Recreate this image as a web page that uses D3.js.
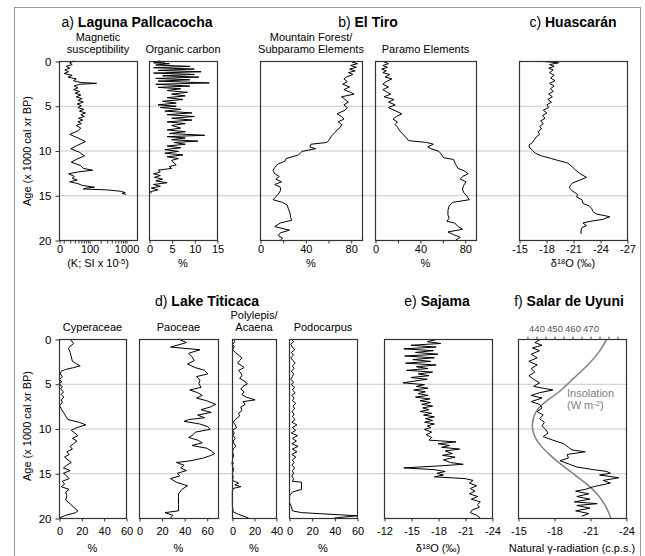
<!DOCTYPE html>
<html>
<head>
<meta charset="utf-8">
<script src="https://cdn.jsdelivr.net/npm/d3@7"></script>
<style>
  body { margin: 0; background: #fff; }
  svg text { font-family: "Liberation Sans", Arial, sans-serif; fill: #000; }
</style>
</head>
<body>
<svg id="chart" width="645" height="556"></svg>
<script>
// ---- data: [age (ka BP), value] ----
var ageTicks = [0, 5, 10, 15, 20];
var gridAges = [5, 10, 15];

var magSusc = [[0.0, 40], [0.2, 30], [0.4, 35], [0.6, 24], [0.8, 30], [1.0, 22], [1.2, 28], [1.4, 21], [1.6, 35], [1.8, 27],
  [2.0, 45], [2.2, 38], [2.4, 60], [2.5, 160], [2.6, 55], [2.8, 40], [3.0, 50], [3.2, 38], [3.4, 55], [3.6, 42],
  [3.8, 60], [4.0, 45], [4.2, 65], [4.4, 50], [4.6, 70], [4.8, 48], [5.0, 62], [5.2, 50], [5.4, 72], [5.6, 55],
  [5.8, 80], [6.0, 60], [6.2, 75], [6.4, 52], [6.6, 68], [6.8, 50], [7.0, 62], [7.2, 45], [7.5, 60], [7.8, 50],
  [8.2, 30], [8.6, 50], [9.0, 80], [9.4, 50], [9.8, 32], [10.2, 55], [10.6, 75], [11.0, 45], [11.3, 33], [11.7, 60],
  [12.0, 70], [12.2, 125], [12.4, 50], [12.6, 28], [12.9, 40], [13.1, 35], [13.3, 48], [13.5, 30], [13.7, 50], [13.9, 65],
  [14.1, 140], [14.2, 85], [14.3, 70], [14.4, 300], [14.55, 700], [14.7, 950], [14.8, 780], [14.9, 1000]];

var orgCarbon = [[0.0, 2], [0.1, 3.5], [0.2, 1], [0.3, 4.5], [0.45, 1.5], [0.6, 9], [0.75, 1], [0.9, 10], [1.05, 2], [1.2, 11.5],
  [1.35, 1], [1.5, 10], [1.65, 3], [1.8, 11], [1.95, 1.5], [2.1, 9], [2.25, 2], [2.45, 13.3], [2.6, 1.5], [2.8, 9],
  [2.95, 2], [3.1, 7], [3.3, 4], [3.5, 8.5], [3.7, 5], [3.9, 8], [4.1, 4], [4.3, 7.5], [4.5, 3], [4.7, 6],
  [4.9, 2], [5.05, 6], [5.2, 2.5], [5.4, 7], [5.6, 3.5], [5.8, 9.5], [6.0, 4], [6.2, 10], [6.4, 5], [6.6, 9.5],
  [6.8, 4], [7.0, 8], [7.2, 5], [7.5, 7], [7.7, 4], [7.9, 8], [8.1, 4.5], [8.3, 12.3], [8.45, 4], [8.6, 8],
  [8.8, 5], [8.95, 10.8], [9.1, 5.5], [9.3, 8], [9.5, 4], [9.7, 7], [9.9, 3.5], [10.1, 6.5], [10.3, 3.5], [10.5, 7.5],
  [10.7, 4], [10.9, 6.5], [11.1, 5], [11.4, 5.5], [11.6, 6], [11.8, 4.5], [12.0, 5], [12.2, 2], [12.4, 2.5], [12.6, 1],
  [12.8, 2.5], [13.0, 1.2], [13.2, 3], [13.4, 1.5], [13.6, 4], [13.8, 1], [14.0, 2.5], [14.2, 0.5], [14.4, 2], [14.6, 0.3], [14.8, 0.5]];

var mountainForest = [[0.1, 81], [0.3, 86], [0.5, 80], [0.7, 85], [0.9, 79], [1.1, 84], [1.3, 78], [1.5, 82], [1.8, 76], [2.0, 74],
  [2.3, 77], [2.6, 73], [2.9, 79], [3.2, 74], [3.5, 80], [3.7, 83], [4.0, 72], [4.3, 75], [4.6, 78], [4.9, 74],
  [5.2, 77], [5.5, 75], [5.9, 68], [6.2, 72], [6.5, 74], [6.8, 69], [7.1, 72], [7.4, 71], [7.7, 68], [8.0, 66],
  [8.4, 63], [8.8, 61], [9.1, 59], [9.3, 45], [9.6, 44], [9.8, 49], [10.1, 37], [10.5, 34], [10.9, 23], [11.2, 22],
  [11.5, 16], [11.9, 13], [12.2, 11.5], [12.6, 13], [12.9, 17], [13.2, 14], [13.5, 19], [13.8, 13], [14.1, 18], [14.5, 18],
  [14.9, 16], [15.3, 13], [15.5, 11.5], [15.8, 20], [16.1, 24], [16.5, 25], [17.0, 26.5], [17.5, 27], [17.8, 28], [18.1, 18],
  [18.5, 13], [18.9, 26], [19.2, 18], [19.5, 16], [19.8, 20], [20, 18]];

var paramo = [[0.1, 8], [0.3, 12], [0.5, 7], [0.7, 11], [0.9, 6], [1.1, 10], [1.3, 7], [1.5, 13], [1.8, 9], [2.0, 15],
  [2.3, 10], [2.6, 7], [2.9, 12], [3.2, 7], [3.5, 11], [3.7, 14], [4.0, 8], [4.3, 17], [4.6, 12], [4.9, 18],
  [5.2, 12], [5.5, 17], [5.9, 24], [6.2, 19], [6.5, 16], [6.8, 20], [7.1, 18], [7.4, 20], [7.8, 22], [8.2, 25],
  [8.6, 28], [8.9, 30], [9.1, 46], [9.3, 52], [9.6, 47], [9.8, 50], [10.1, 57], [10.4, 59], [10.8, 61], [11.0, 70],
  [11.3, 71], [11.6, 72], [12.0, 74], [12.3, 80], [12.6, 83], [12.9, 78], [13.2, 76], [13.5, 81], [13.9, 79], [14.3, 78],
  [14.7, 79], [15.1, 82], [15.5, 84], [15.8, 69], [16.2, 66], [16.7, 65], [17.2, 65], [17.6, 66], [17.9, 64], [18.1, 71],
  [18.5, 74], [18.8, 78], [19.1, 65], [19.4, 70], [19.7, 76], [20, 72]];

var huascaran = [[0.05, -17.6], [0.2, -19.4], [0.4, -18.4], [0.6, -18.9], [0.8, -18.3], [1.0, -18.8], [1.3, -18.4], [1.6, -18.9], [1.9, -18.5], [2.2, -19.0],
  [2.5, -18.4], [2.8, -18.9], [3.1, -18.5], [3.4, -18.8], [3.7, -18.3], [4.0, -18.7], [4.3, -18.2], [4.6, -18.6], [4.9, -18.1], [5.2, -18.3],
  [5.5, -17.7], [5.8, -18.1], [6.1, -17.6], [6.4, -17.9], [6.7, -17.4], [7.0, -17.7], [7.3, -17.3], [7.6, -17.5], [7.9, -17.1], [8.2, -17.3],
  [8.5, -16.9], [8.8, -16.7], [9.1, -16.5], [9.4, -16.1], [9.7, -16.2], [10.0, -16.5], [10.3, -16.8], [10.6, -17.5], [10.9, -18.6], [11.1, -19.3],
  [11.4, -20.4], [11.8, -20.9], [12.2, -21.3], [12.6, -21.8], [13.0, -22.5], [13.3, -21.8], [13.6, -21.0], [13.9, -20.7], [14.2, -20.6], [14.5, -20.9],
  [14.9, -21.5], [15.2, -21.4], [15.5, -22.0], [15.9, -22.1], [16.2, -22.8], [16.5, -23.1], [16.8, -23.2], [17.1, -23.6], [17.4, -25.1], [17.7, -24.3],
  [17.9, -23.0], [18.1, -22.1], [18.4, -22.5], [18.6, -22.0], [18.9, -21.9], [19.3, -21.9]];

var cyperaceae = [[0, 10], [0.5, 13], [1.0, 8.5], [1.5, 10], [2.0, 11], [2.5, 12], [2.8, 16], [3.0, 19], [3.2, 13], [3.4, 6],
  [3.6, 2], [3.9, 1], [4.2, 3], [4.5, 0.5], [4.8, 2.5], [5.0, 0], [5.3, 3], [5.6, 1.5], [5.9, 4], [6.2, 2],
  [6.5, 4.5], [6.8, 2], [7.1, 3], [7.4, 0.5], [7.8, 2], [8.2, 4], [8.6, 6], [9.0, 8], [9.3, 18], [9.6, 24],
  [9.9, 16], [10.2, 11], [10.5, 14], [10.8, 17], [11.1, 12], [11.4, 16], [11.7, 13], [12.0, 10], [12.3, 12], [12.6, 7],
  [12.9, 9], [13.2, 5], [13.5, 8], [13.8, 11], [14.1, 7], [14.4, 4], [14.7, 10], [15.0, 4], [15.3, 7], [15.6, 9],
  [15.9, 3], [16.2, 5], [16.5, 2], [16.8, 9], [17.1, 6], [17.5, 7], [18.0, 6], [18.4, 10], [18.8, 13], [19.2, 17],
  [19.4, 15], [19.7, 6], [20, 0]];

var paoceae = [[0, 35], [0.4, 42], [0.9, 28], [1.2, 54], [1.6, 44], [2.0, 47], [2.4, 49], [2.8, 43], [3.2, 50], [3.5, 58],
  [3.9, 61], [4.2, 51], [4.6, 54], [5.0, 53], [5.4, 55], [5.7, 45], [6.0, 52], [6.3, 56], [6.6, 51], [6.9, 60],
  [7.3, 68], [7.6, 63], [7.9, 55], [8.2, 64], [8.5, 52], [8.8, 58], [9.0, 44], [9.2, 40], [9.5, 54], [9.8, 61],
  [10.1, 63], [10.4, 50], [10.7, 48], [11.0, 44], [11.3, 52], [11.6, 56], [11.9, 47], [12.2, 60], [12.5, 64], [12.8, 67],
  [13.0, 64], [13.3, 57], [13.6, 46], [13.8, 33], [14.1, 40], [14.4, 37], [14.7, 42], [15.0, 34], [15.3, 36], [15.6, 28],
  [16.0, 33], [16.4, 43], [16.8, 38], [17.3, 35], [17.6, 35], [18.5, 35], [19.2, 35], [19.4, 23], [19.7, 30], [20, 28]];

var polylepis = [[0, 1], [0.3, 2.5], [0.6, 0.5], [0.9, 2], [1.2, 0.5], [1.5, 3], [1.8, 6], [2.1, 9], [2.4, 7], [2.7, 5],
  [3.0, 9], [3.2, 11], [3.5, 6], [3.8, 8], [4.1, 9], [4.4, 7], [4.7, 11], [5.0, 14], [5.3, 10], [5.6, 8],
  [5.9, 11], [6.2, 9], [6.5, 13], [6.8, 21], [7.0, 10], [7.3, 12], [7.6, 8], [8.0, 9], [8.3, 6], [8.6, 7],
  [9.0, 3], [9.3, 1], [9.6, 3], [9.9, 4], [10.2, 0.5], [10.5, 2], [10.8, 1], [11.1, 3], [11.4, 1], [11.7, 2],
  [12.0, 3.5], [12.3, 1], [12.6, 0.5], [13.0, 1.5], [13.4, 0.5], [13.8, 0.3], [14.2, 0.5], [14.6, 1.5], [15.0, 0.3], [15.4, 1],
  [15.8, 0.5], [16.1, 6], [16.3, 2.5], [16.5, 8], [16.7, 1], [17.0, 0.3], [17.5, 0.3], [18.5, 0.3], [19.3, 1], [19.6, 6], [20, 15]];
var polylepisMark = [[13.9, 0.6]];

var podocarpus = [[0, 2], [0.3, 4], [0.6, 1.5], [0.9, 3], [1.2, 5], [1.5, 2], [1.8, 4], [2.1, 1.5], [2.4, 3.5], [2.7, 5.5],
  [3.0, 3], [3.3, 4.5], [3.6, 2], [3.9, 4], [4.2, 3], [4.5, 1.5], [4.8, 4], [5.1, 2], [5.4, 5], [5.7, 3],
  [6.0, 5.5], [6.3, 2.5], [6.6, 4.5], [6.9, 3], [7.2, 6], [7.5, 3.5], [7.8, 5], [8.1, 2.5], [8.4, 4.5], [8.7, 3],
  [9.0, 5.5], [9.3, 2.5], [9.6, 7], [9.9, 3], [10.2, 6], [10.5, 2], [10.8, 7.5], [11.1, 3], [11.4, 6.5], [11.7, 2.5],
  [12.0, 8], [12.3, 3], [12.6, 7], [12.9, 2.5], [13.2, 6], [13.5, 3], [13.8, 4.5], [14.1, 2.5], [14.4, 5], [14.7, 3],
  [15.0, 4], [15.3, 2.5], [15.6, 4], [15.9, 3], [16.0, 11], [16.8, 11], [17.1, 3], [17.5, 0.5], [18.3, 0.5], [18.7, 2],
  [19.2, 3], [19.4, 11], [19.75, 60], [20, 40]];

var sajama = [[0.05, -17.9], [0.3, -16.8], [0.5, -18.3], [0.7, -15.0], [0.9, -17.8], [1.1, -14.2], [1.3, -17.5], [1.5, -15.5], [1.7, -18.0], [1.9, -14.3],
  [2.1, -17.6], [2.3, -15.2], [2.5, -17.2], [2.7, -14.4], [2.9, -17.8], [3.1, -15.6], [3.3, -16.9], [3.5, -14.5], [3.7, -17.4], [3.9, -15.8],
  [4.1, -17.0], [4.3, -15.0], [4.5, -16.8], [4.7, -15.4], [4.9, -14.1], [5.1, -16.5], [5.3, -15.6], [5.5, -16.9], [5.7, -15.3], [5.9, -16.6],
  [6.1, -15.8], [6.3, -16.9], [6.5, -15.5], [6.7, -17.1], [6.9, -16.0], [7.1, -17.2], [7.3, -16.2], [7.5, -17.4], [7.7, -16.3], [7.9, -17.0],
  [8.1, -16.0], [8.3, -17.3], [8.5, -16.4], [8.7, -17.6], [8.9, -16.6], [9.1, -17.4], [9.3, -16.5], [9.5, -17.6], [9.7, -16.8], [9.9, -17.2],
  [10.1, -16.5], [10.4, -17.3], [10.7, -16.7], [11.0, -17.3], [11.3, -17.0], [11.5, -20.0], [11.7, -18.0], [11.9, -19.3], [12.1, -18.4], [12.3, -20.4],
  [12.5, -18.8], [12.8, -19.6], [13.0, -18.5], [13.2, -19.9], [13.5, -18.6], [13.8, -19.4], [14.0, -20.8], [14.2, -17.8], [14.4, -14.2], [14.6, -17.6],
  [14.8, -18.8], [15.0, -17.9], [15.2, -18.6], [15.4, -17.6], [15.6, -21.0], [15.8, -21.9], [16.1, -21.5], [16.4, -22.3], [16.7, -21.6], [17.0, -22.1],
  [17.3, -21.5], [17.6, -22.4], [17.9, -21.7], [18.2, -22.7], [18.5, -22.4], [18.8, -22.6], [19.1, -21.8], [19.4, -21.6], [19.7, -22.3], [20.0, -22.7]];

var gammaRad = [[0.1, -16.8], [0.4, -16.4], [0.7, -17.0], [1.0, -16.2], [1.3, -16.8], [1.7, -16.1], [2.1, -16.6], [2.5, -15.9], [2.9, -16.6], [3.3, -16.1],
  [3.7, -16.4], [4.1, -15.9], [4.5, -16.3], [4.9, -16.8], [5.3, -16.3], [5.7, -17.9], [6.0, -16.8], [6.3, -16.1], [6.6, -17.0], [7.0, -16.1],
  [7.3, -16.8], [7.7, -17.0], [8.1, -16.6], [8.5, -17.1], [8.9, -16.8], [9.3, -17.2], [9.7, -17.0], [10.1, -17.3], [10.5, -17.5], [10.9, -17.1],
  [11.3, -17.9], [11.7, -18.8], [12.1, -19.2], [12.4, -19.5], [12.6, -20.6], [12.9, -19.1], [13.3, -19.2], [13.6, -18.5], [14.0, -19.3], [14.3, -19.9],
  [14.6, -21.3], [14.8, -22.4], [15.0, -22.7], [15.2, -21.8], [15.5, -23.4], [15.8, -22.1], [16.1, -22.7], [16.5, -21.3], [16.8, -20.6], [17.0, -19.8],
  [17.3, -20.9], [17.6, -19.9], [17.9, -21.0], [18.2, -19.7], [18.4, -21.6], [18.6, -19.9], [18.9, -21.0], [19.2, -19.8], [19.5, -20.9], [19.8, -20.3]];

var insolation = [[0, 479.3], [1.4, 475.6], [2.9, 469], [4.4, 460.7], [5.9, 453.3], [7.0, 445], [7.7, 441.3], [8.5, 438.9],
  [9.6, 437.6], [10.7, 438.5], [11.9, 442.2], [13.0, 447.8], [14.1, 454.3], [15.2, 461.7], [16.3, 469], [17.4, 474.6],
  [18.5, 478.3], [19.7, 481.1], [20, 481.5]];

var magTicks = [15.4, 20, 30, 40, 50, 60, 70, 80, 90, 100, 200, 300, 400, 500, 600, 700, 800, 900, 1000];
var insolTicks = [435, 440, 445, 450, 455, 460, 465, 470, 475, 480, 485];
var insolLabels = [440, 450, 460, 470];

// ---- layout ----
var svg = d3.select("#chart");
var FS = "11px";

svg.append("rect")
  .attr("x", 14.5).attr("y", 7.5)
  .attr("width", 626).attr("height", 570)
  .attr("fill", "none").attr("stroke", "#9a9a9a");

var rows = [
  {top: 61, bottom: 240, pad: 2, unitY: 267, gx: [59, 627], labelY: 151},
  {top: 339, bottom: 518, pad: 6, unitY: 552, gx: [59, 626], labelY: 426}
];

rows.forEach(function(r) {
  r.y = d3.scaleLinear().domain([0, 20]).range([r.top, r.bottom]);

  svg.append("g").selectAll("line")
    .data(gridAges)
    .join("line")
      .attr("x1", r.gx[0]).attr("x2", r.gx[1])
      .attr("y1", function(d) { return r.y(d) + 0.5 })
      .attr("y2", function(d) { return r.y(d) + 0.5 })
      .attr("stroke", "#c8c8c8").attr("stroke-width", 1);

  var ya = svg.append("g")
    .attr("transform", "translate(59.5,0.5)")
    .call(d3.axisLeft(r.y).tickValues(ageTicks).tickSize(4).tickPadding(4).tickFormat(String));
  ya.select(".domain").remove();
  ya.selectAll("line").attr("stroke", "#333");
  ya.selectAll("text").attr("font-size", "11.5px").attr("font-family", null).attr("fill", "#000");

  svg.append("text")
    .attr("transform", "translate(31," + r.labelY + ") rotate(-90)")
    .attr("text-anchor", "middle")
    .attr("font-size", FS)
    .text("Age (x 1000 cal xr BP)");
});

// text with superscripts: parts = [[text, isSup], ...]
function richText(x, y, parts, color) {
  var t = svg.append("text")
    .attr("x", x).attr("y", y)
    .attr("text-anchor", "middle")
    .attr("font-size", FS)
    .style("fill", color || "#000");
  var up = false;
  parts.forEach(function(p) {
    var s = t.append("tspan").text(p[0]);
    if (p[1] && !up) { s.attr("dy", -3.5).attr("font-size", "7.5px"); up = true }
    else if (!p[1] && up) { s.attr("dy", 3.5); up = false }
    else if (p[1]) { s.attr("font-size", "7.5px") }
  });
  return t;
}

var panels = [
  {row: 0, x0: 59, x1: 137, data: magSusc, log: true, domain: [15.4, 1980], ticks: magTicks,
    labels: [15.4, 100, 1000], fmt: function(d) { return d < 20 ? "0" : String(d) },
    sub: ["Magnetic", "susceptibility"], unit: [["(K; SI x 10"], ["-5", true], [")"]]},
  {row: 0, x0: 149, x1: 217, data: orgCarbon, domain: [0, 15], ticks: [0, 5, 10, 15], labels: [0, 5, 10, 15],
    sub: ["Organic carbon"], unit: [["%"]]},
  {row: 0, x0: 260, x1: 362, data: mountainForest, domain: [0, 90], ticks: [0, 20, 40, 60, 80], labels: [0, 40, 80],
    sub: ["Mountain Forest/", "Subparamo Elements"], unit: [["%"]]},
  {row: 0, x0: 375, x1: 476, data: paramo, domain: [0, 90], ticks: [0, 20, 40, 60, 80], labels: [0, 40, 80],
    sub: ["Paramo Elements"], unit: [["%"]]},
  {row: 0, x0: 519, x1: 627, data: huascaran, domain: [-15, -27], ticks: [-15, -18, -21, -24, -27], labels: [-15, -18, -21, -24, -27],
    sub: [], unit: [["δ"], ["18", true], ["O (‰)"]]},
  {row: 1, x0: 59, x1: 126, data: cyperaceae, domain: [0, 60], ticks: [0, 20, 40, 60], labels: [0, 20, 40, 60],
    sub: ["Cyperaceae"], unit: [["%"]]},
  {row: 1, x0: 139, x1: 218, data: paoceae, domain: [0, 70], ticks: [0, 20, 40, 60], labels: [0, 20, 40, 60],
    sub: ["Paoceae"], unit: [["%"]]},
  {row: 1, x0: 232, x1: 276, data: polylepis, domain: [0, 40], ticks: [0, 20, 40], labels: [0, 20, 40],
    sub: ["Polylepis/", "Acaena"], unit: [["%"]], mark: polylepisMark},
  {row: 1, x0: 289, x1: 357, data: podocarpus, domain: [0, 60], ticks: [0, 20, 40, 60], labels: [0, 20, 40, 60],
    sub: ["Podocarpus"], unit: [["%"]]},
  {row: 1, x0: 384, x1: 492, data: sajama, domain: [-12, -24], ticks: [-12, -15, -18, -21, -24], labels: [-12, -15, -18, -21, -24],
    sub: [], unit: [["δ"], ["18", true], ["O (‰)"]]},
  {row: 1, x0: 518, x1: 626, data: gammaRad, domain: [-15, -24], ticks: [-15, -18, -21, -24], labels: [-15, -18, -21, -24],
    sub: [], unit: [["Natural γ-radiation (c.p.s.)"]], insol: true}
];

panels.forEach(function(p) {
  var r = rows[p.row];
  var x = (p.log ? d3.scaleLog() : d3.scaleLinear()).domain(p.domain).range([p.x0, p.x1]);
  var cx = (p.x0 + p.x1) / 2;
  var g = svg.append("g");

  if (p.insol) {
    var xi = d3.scaleLinear().domain([430, 490]).range([p.x0, p.x1]);
    g.append("path")
      .datum(insolation)
      .attr("d", d3.line().curve(d3.curveBasis)
        .x(function(d) { return xi(d[1]) })
        .y(function(d) { return r.y(d[0]) }))
      .attr("fill", "none").attr("stroke", "#808080").attr("stroke-width", 1.5);

    var ta = g.append("g")
      .attr("transform", "translate(0.5," + (r.top + 0.5) + ")")
      .call(d3.axisTop(xi).tickValues(insolTicks).tickSize(3).tickPadding(5)
        .tickFormat(function(d) { return insolLabels.indexOf(d) >= 0 ? d : "" }));
    ta.select(".domain").remove();
    ta.selectAll("line").attr("stroke", "#555");
    ta.selectAll("text").attr("font-size", "9.5px").attr("font-family", null).style("fill", "#555");

    svg.append("text").attr("x", 567).attr("y", 397).attr("font-size", FS)
      .style("fill", "#808080").text("Insolation");
    var il = svg.append("text").attr("x", 567).attr("y", 409).attr("font-size", FS).style("fill", "#808080");
    il.append("tspan").text("(W m");
    il.append("tspan").attr("dy", -3.5).attr("font-size", "7.5px").text("-2");
    il.append("tspan").attr("dy", 3.5).text(")");
  }

  g.append("path")
    .datum(p.data)
    .attr("d", d3.line()
      .x(function(d) { return x(d[1]) })
      .y(function(d) { return r.y(d[0]) }))
    .attr("fill", "none").attr("stroke", "#000").attr("stroke-width", 1)
    .attr("stroke-linejoin", "miter");

  if (p.mark) {
    g.selectAll(".mark").data(p.mark).join("circle")
      .attr("cx", function(d) { return x(d[1]) })
      .attr("cy", function(d) { return r.y(d[0]) })
      .attr("r", 1.3).attr("fill", "#e00000");
  }

  g.append("rect")
    .attr("x", p.x0 + 0.5).attr("y", r.top + 0.5)
    .attr("width", p.x1 - p.x0).attr("height", r.bottom - r.top)
    .attr("fill", "none").attr("stroke", "#333").attr("stroke-width", 1.2);

  var ax = g.append("g")
    .attr("transform", "translate(0.5," + (r.bottom + 0.5) + ")")
    .call(d3.axisBottom(x).tickValues(p.ticks).tickSize(3).tickPadding(r.pad)
      .tickFormat(function(d) {
        if (p.labels.indexOf(d) < 0) return "";
        return p.fmt ? p.fmt(d) : String(d);
      }));
  ax.select(".domain").remove();
  ax.selectAll("line").attr("stroke", "#333");
  ax.selectAll("text").attr("font-size", "11px").attr("font-family", null).attr("fill", "#000");

  // panel headings
  var subBase = p.row === 0 ? 53 : 331;
  p.sub.slice().reverse().forEach(function(s, i) {
    svg.append("text").attr("x", cx).attr("y", subBase - i * 12)
      .attr("text-anchor", "middle").attr("font-size", FS).text(s);
  });

  richText(cx, r.unitY, p.unit);
});

// site titles
var titles = [
  {x: 137, y: 27, tag: "a) ", name: "Laguna Pallcacocha"},
  {x: 368, y: 27, tag: "b) ", name: "El Tiro"},
  {x: 573, y: 27, tag: "c) ", name: "Huascarán"},
  {x: 207, y: 306, tag: "d) ", name: "Lake Titicaca"},
  {x: 437, y: 306, tag: "e) ", name: "Sajama"},
  {x: 569, y: 306, tag: "f) ", name: "Salar de Uyuni"}
];
titles.forEach(function(t) {
  var el = svg.append("text").attr("x", t.x).attr("y", t.y)
    .attr("text-anchor", "middle").attr("font-size", "14px");
  el.append("tspan").text(t.tag);
  el.append("tspan").attr("font-weight", "bold").text(t.name);
});
</script>
</body>
</html>
